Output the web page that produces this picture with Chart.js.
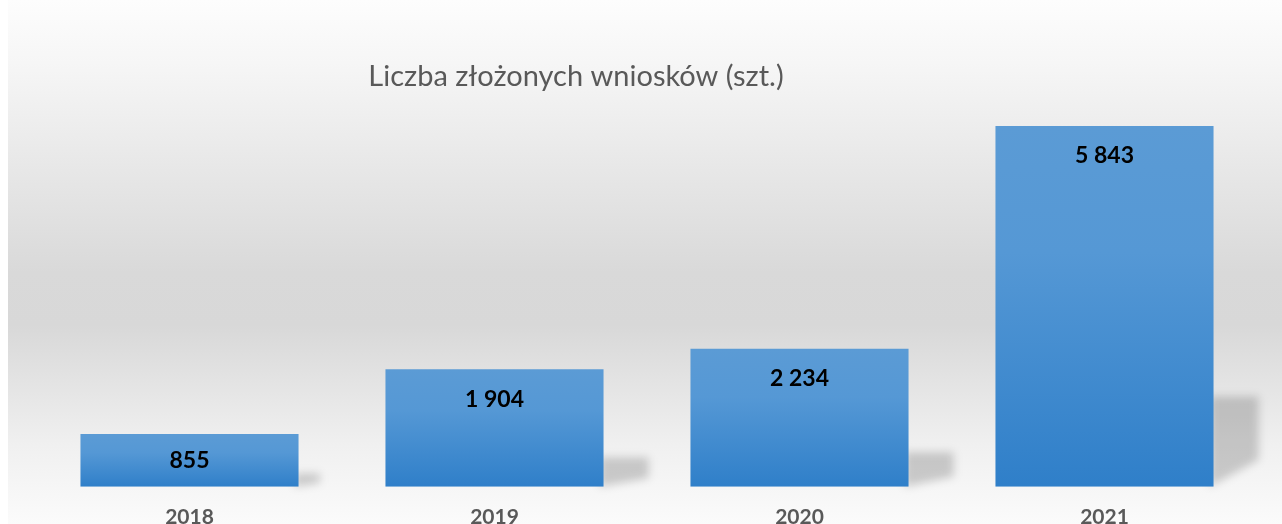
<!DOCTYPE html>
<html>
<head>
<meta charset="utf-8">
<script src="https://cdn.jsdelivr.net/npm/chart.js@4/dist/chart.umd.min.js"></script>
<style>
  body { margin: 0; background: #fff; }
</style>
</head>
<body>
<canvas id="chart" width="1282" height="524"></canvas>
<script>
// Data
const years = ['2018', '2019', '2020', '2021'];
const applications = [855, 1904, 2234, 5843];
const chartTitle = 'Liczba złożonych wniosków (szt.)';

const FONT = 'Lato, "Open Sans", sans-serif';

// "5 843" style grouping
function fmt(v) {
    return String(v).replace(/\B(?=(\d{3})+(?!\d))/g, ' ');
}

// Grey band behind the chart
const backgroundPlugin = {
    id: 'bg',
    beforeDraw(chart) {
        const c = chart.ctx;
        const g = c.createLinearGradient(0, 0, 0, chart.height);
        g.addColorStop(0, '#fdfdfd');
        g.addColorStop(0.12, '#f6f6f6');
        g.addColorStop(0.52, '#d9d9d9');
        g.addColorStop(0.62, '#d8d8d8');
        g.addColorStop(0.85, '#f0f0f0');
        g.addColorStop(1, '#fbfbfb');
        c.save();
        c.fillStyle = '#ffffff';
        c.fillRect(0, 0, chart.width, chart.height);
        c.fillStyle = g;
        c.fillRect(8, 0, chart.width - 8, chart.height);
        c.restore();
    }
};

// Soft shadow to the right of each bar
const shadowPlugin = {
    id: 'barShadow',
    beforeDatasetsDraw(chart) {
        const c = chart.ctx;
        const meta = chart.getDatasetMeta(0);
        c.save();
        c.filter = 'blur(4px)';
        c.fillStyle = 'rgba(0,0,0,0.18)';
        meta.data.forEach(bar => {
            const right = bar.x + bar.width / 2;
            const h = bar.base - bar.y;
            const sh = h * 0.25;
            const dx = Math.min(45, h * 0.4);
            c.beginPath();
            c.moveTo(right - 4, bar.base - sh);
            c.lineTo(right + dx, bar.base - sh);
            c.lineTo(right + dx, bar.base - sh * 0.3);
            c.lineTo(right - 4, bar.base);
            c.closePath();
            c.fill();
        });
        c.restore();
    }
};

// Value labels inside the bar top
const labelPlugin = {
    id: 'valueLabels',
    afterDatasetsDraw(chart) {
        const c = chart.ctx;
        const meta = chart.getDatasetMeta(0);
        c.save();
        c.font = 'bold 23px ' + FONT;
        c.fillStyle = '#000000';
        c.textAlign = 'center';
        c.textBaseline = 'middle';
        meta.data.forEach((bar, i) => {
            const y = Math.min(bar.y + 30, (bar.y + bar.base) / 2);
            c.fillText(fmt(applications[i]), bar.x, y);
        });
        c.restore();
    }
};

// Title, placed a bit left of centre like the original
const titlePlugin = {
    id: 'chartTitle',
    afterDraw(chart) {
        const c = chart.ctx;
        c.save();
        c.font = '29px ' + FONT;
        c.fillStyle = '#595959';
        c.textAlign = 'center';
        c.textBaseline = 'middle';
        c.fillText(chartTitle, 576, 77);
        c.restore();
    }
};

function barGradient(context) {
    const chart = context.chart;
    const area = chart.chartArea;
    if (!area) return '#4a8fd2';
    const v = context.raw;
    const y = chart.scales.y;
    const top = y.getPixelForValue(v);
    const base = y.getPixelForValue(0);
    const g = chart.ctx.createLinearGradient(0, top, 0, base);
    g.addColorStop(0, '#5b9bd5');
    g.addColorStop(0.35, '#5598d5');
    g.addColorStop(1, '#2f7fc9');
    return g;
}

const ctx = document.getElementById('chart').getContext('2d');
const chart = new Chart(ctx, {
    type: 'bar',
    data: {
        labels: years,
        datasets: [{
            label: chartTitle,
            data: applications,
            backgroundColor: barGradient,
            borderWidth: 0,
            categoryPercentage: 1,
            barPercentage: 0.715,
        }],
    },
    options: {
        responsive: false,
        animation: false,
        layout: {
            padding: { left: 37, right: 25, top: 110, bottom: -24 },
        },
        plugins: {
            legend: { display: false },
            tooltip: { enabled: false },
            title: { display: false },
        },
        scales: {
            x: {
                grid: { display: false, drawTicks: false },
                border: { display: false },
                ticks: {
                    padding: 18,
                    color: '#595959',
                    font: { family: FONT, size: 21, weight: 'bold' },
                },
            },
            y: {
                display: false,
                min: 0,
                max: 6100,
            },
        },
    },
    plugins: [backgroundPlugin, shadowPlugin, labelPlugin, titlePlugin],
});
</script>
</body>
</html>
